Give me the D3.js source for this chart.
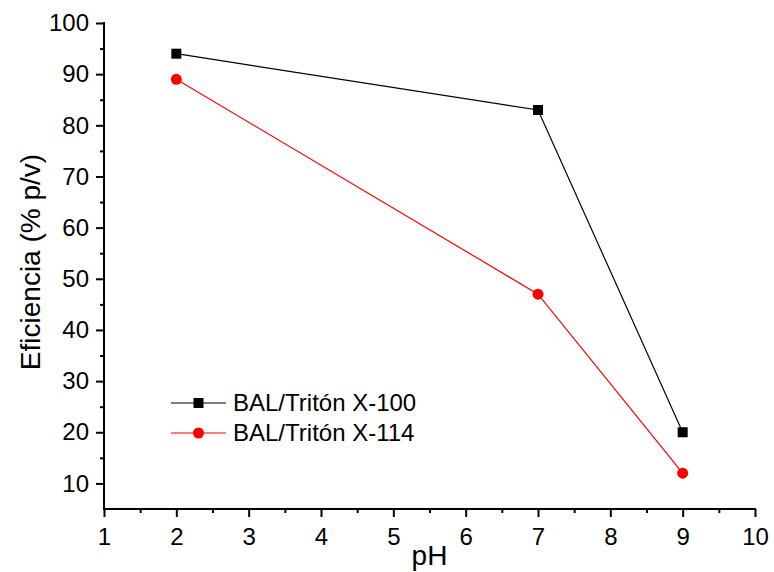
<!DOCTYPE html>
<html>
<head>
<meta charset="utf-8">
<script src="https://cdn.jsdelivr.net/npm/d3@7"></script>
<style>
  body { margin: 0; background: #fff; }
  svg text { font-family: "Liberation Sans", Arial, sans-serif; fill: #000; }
</style>
</head>
<body>
<svg id="chart"></svg>
<script>
// data
const phValues = [2, 7, 9];
const triton100 = [94, 83, 20];
const triton114 = [89, 47, 12];
const seriesNames = ['BAL/Tritón X-100', 'BAL/Tritón X-114'];
const xTicks = [1, 2, 3, 4, 5, 6, 7, 8, 9, 10];
const yTicks = [10, 20, 30, 40, 50, 60, 70, 80, 90, 100];

const width = 774, height = 572;
const margin = { top: 23, right: 19, bottom: 63, left: 104 };

const svg = d3.select('#chart')
    .attr('width', width)
    .attr('height', height);

const x = d3.scaleLinear().domain([1, 10]).range([margin.left, width - margin.right]);
const y = d3.scaleLinear().domain([5, 100]).range([height - margin.bottom, margin.top]);

// MINOR TICKS (drawn first, no domain)
svg.append('g')
    .attr('transform', `translate(0, ${y(5)})`)
    .call(d3.axisBottom(x).tickValues(d3.range(1.5, 10, 1)).tickSize(4).tickFormat(''))
    .call(g => g.select('.domain').remove());
svg.append('g')
    .attr('transform', `translate(${x(1)}, 0)`)
    .call(d3.axisLeft(y).tickValues(d3.range(15, 100, 10)).tickSize(4).tickFormat(''))
    .call(g => g.select('.domain').remove());

// AXES
const xAxis = svg.append('g')
    .attr('transform', `translate(0, ${y(5)})`)
    .call(d3.axisBottom(x).tickValues(xTicks).tickSize(8).tickSizeOuter(0).tickPadding(11).tickFormat(d3.format('d')));

const yAxis = svg.append('g')
    .attr('transform', `translate(${x(1)}, 0)`)
    .call(d3.axisLeft(y).tickValues(yTicks).tickSize(8).tickSizeOuter(0).tickPadding(7).tickFormat(d3.format('d')));

svg.selectAll('.domain').attr('stroke', '#000').attr('stroke-width', 2);
svg.selectAll('.tick line').attr('stroke', '#000').attr('stroke-width', 2);
xAxis.select('.domain').attr('d', `M${x(1) - 1},0H${x(10) + 1}`);
yAxis.select('.domain').attr('d', `M0,${y(5) + 1}V${y(100) - 1}`);

xAxis.selectAll('text').attr('font-size', 24);
yAxis.selectAll('text').attr('font-size', 24);

// AXIS TITLES
svg.append('text')
    .attr('x', (x(1) + x(10)) / 2)
    .attr('y', 565)
    .attr('text-anchor', 'middle')
    .attr('font-size', 28)
    .text('pH');

svg.append('text')
    .attr('transform', 'translate(40, 262) rotate(-90)')
    .attr('text-anchor', 'middle')
    .attr('font-size', 28)
    .text('Eficiencia (% p/v)');

// SERIES
const line = d3.line().x(d => x(d[0])).y(d => y(d[1]));
const s100 = phValues.map((p, i) => [p, triton100[i]]);
const s114 = phValues.map((p, i) => [p, triton114[i]]);

svg.append('path').datum(s100)
    .attr('d', line).attr('fill', 'none').attr('stroke', '#000').attr('stroke-width', 1.2);
svg.append('path').datum(s114)
    .attr('d', line).attr('fill', 'none').attr('stroke', '#ff0000').attr('stroke-width', 1.2);

svg.selectAll('.sq').data(s100).enter().append('rect')
    .attr('x', d => x(d[0]) - 5).attr('y', d => y(d[1]) - 5)
    .attr('width', 10).attr('height', 10).attr('fill', '#000');
svg.selectAll('.dot').data(s114).enter().append('circle')
    .attr('cx', d => x(d[0])).attr('cy', d => y(d[1]))
    .attr('r', 5.5).attr('fill', '#ff0000');

// LEGEND
const legend = svg.append('g').attr('transform', 'translate(171, 403)');
const colors = ['#000', '#ff0000'];
seriesNames.forEach((name, i) => {
    const g = legend.append('g').attr('transform', `translate(0, ${i * 30})`);
    g.append('line').attr('x1', 0).attr('x2', 55).attr('y1', 0).attr('y2', 0)
        .attr('stroke', colors[i]).attr('stroke-width', 1.2);
    if (i === 0) {
        g.append('rect').attr('x', 22.5).attr('y', -5).attr('width', 10).attr('height', 10).attr('fill', colors[i]);
    } else {
        g.append('circle').attr('cx', 27.5).attr('cy', 0).attr('r', 5.5).attr('fill', colors[i]);
    }
    g.append('text').attr('x', 62).attr('y', 0).attr('dy', '0.35em')
        .attr('font-size', 24).text(name);
});
</script>
</body>
</html>
